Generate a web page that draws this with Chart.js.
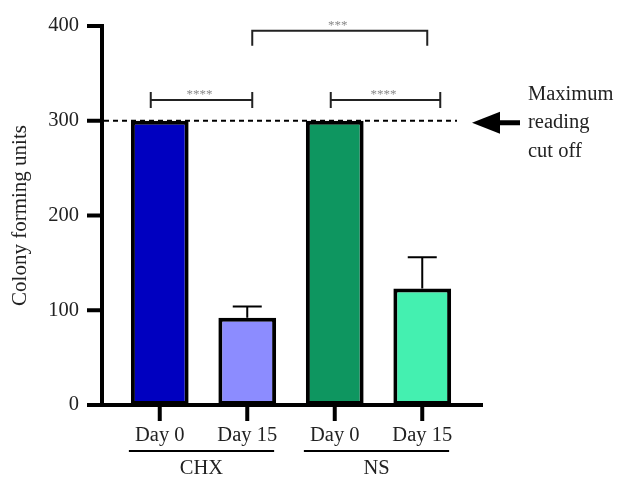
<!DOCTYPE html>
<html>
<head>
<meta charset="utf-8">
<script src="https://cdn.jsdelivr.net/npm/chart.js@4.4.1/dist/chart.umd.min.js"></script>
<style>
html,body{margin:0;padding:0;background:#fff;}
#wrap{width:619px;height:478px;position:relative;}
</style>
</head>
<body>
<div id="wrap"><canvas id="c" width="619" height="478"></canvas></div>
<script>
const categories = ['Day 0', 'Day 15', 'Day 0', 'Day 15'];
const groups = ['CHX', 'NS'];
const groupMembers = [[0, 1], [2, 3]];
const cfuMeans = [300, 92, 300, 123];
const cfuErrors = [0, 12, 0, 33];
const barColors = ['#0000C0', '#8C8CFF', '#0E9660', '#44F0B0'];
const yTickValues = [0, 100, 200, 300, 400];
const cutoffValue = 300;
const cutoffText = ['Maximum', 'reading', 'cut off'];
const bracketFrom = [0, 1, 2];
const bracketTo = [1, 3, 3];
const bracketValue = [322, 395, 322];
const bracketLabels = ['****', '***', '****'];

const FONT = "'Liberation Serif', 'Times New Roman', serif";
const TEXT = '#222';

const overlay = {
  id: 'overlay',
  afterDatasetsDraw(chart) {
    const ctx = chart.ctx, ca = chart.chartArea;
    const x = chart.scales.x, y = chart.scales.y;
    const meta = chart.getDatasetMeta(0);
    const axisX = ca.left - 14;
    const y0 = y.getPixelForValue(0);
    ctx.save();
    // error bars (upward)
    ctx.strokeStyle = '#000'; ctx.lineWidth = 2;
    cfuMeans.forEach((m, i) => {
      if (!cfuErrors[i]) return;
      const cx = meta.data[i].x;
      const top = y.getPixelForValue(m + cfuErrors[i]);
      const base = y.getPixelForValue(m);
      ctx.beginPath();
      ctx.moveTo(cx, base); ctx.lineTo(cx, top);
      ctx.moveTo(cx - 14.5, top); ctx.lineTo(cx + 14.5, top);
      ctx.stroke();
    });
    // axes
    ctx.strokeStyle = '#000'; ctx.lineWidth = 4; ctx.lineCap = 'butt';
    ctx.beginPath();
    ctx.moveTo(axisX, y.getPixelForValue(400) - 2); ctx.lineTo(axisX, y0 + 2);
    ctx.stroke();
    yTickValues.forEach(v => {
      const py = y.getPixelForValue(v);
      ctx.beginPath(); ctx.moveTo(axisX - 15, py); ctx.lineTo(axisX, py); ctx.stroke();
    });
    ctx.beginPath(); ctx.moveTo(axisX - 15, y0); ctx.lineTo(ca.right + 17, y0); ctx.stroke();
    categories.forEach((c, i) => {
      const px = x.getPixelForValue(i);
      ctx.beginPath(); ctx.moveTo(px, y0); ctx.lineTo(px, y0 + 16); ctx.stroke();
    });
    // cutoff dashed line
    const cy = y.getPixelForValue(cutoffValue);
    ctx.lineWidth = 2; ctx.setLineDash([5, 4]);
    ctx.beginPath(); ctx.moveTo(axisX + 2, cy); ctx.lineTo(ca.right - 9, cy); ctx.stroke();
    ctx.setLineDash([]);
    // arrow
    const ay = cy + 2;
    ctx.fillStyle = '#000';
    ctx.beginPath();
    ctx.moveTo(ca.right + 6, ay);
    ctx.lineTo(ca.right + 34, ay - 11);
    ctx.lineTo(ca.right + 34, ay + 11);
    ctx.closePath(); ctx.fill();
    ctx.fillRect(ca.right + 33, ay - 2.5, 21, 5);
    // cutoff text
    ctx.fillStyle = TEXT; ctx.font = '20.5px ' + FONT; ctx.textAlign = 'left'; ctx.textBaseline = 'alphabetic';
    cutoffText.forEach((t, i) => ctx.fillText(t, ca.right + 62, cy - 21 + i * 28.5));
    // brackets
    ctx.strokeStyle = '#222'; ctx.lineWidth = 2;
    bracketLabels.forEach((lab, i) => {
      const by = y.getPixelForValue(bracketValue[i]);
      const tall = i === 1;
      const fx = x.getPixelForValue(bracketFrom[i]) + (tall ? 5 : (i === 0 ? -9 : -4));
      const tx = x.getPixelForValue(bracketTo[i]) + (tall ? 5 : (i === 0 ? 5 : 18));
      ctx.beginPath();
      if (tall) {
        ctx.moveTo(fx, by + 15); ctx.lineTo(fx, by); ctx.lineTo(tx, by); ctx.lineTo(tx, by + 15);
      } else {
        ctx.moveTo(fx, by - 8); ctx.lineTo(fx, by + 8);
        ctx.moveTo(tx, by - 8); ctx.lineTo(tx, by + 8);
        ctx.moveTo(fx, by); ctx.lineTo(tx, by);
      }
      ctx.stroke();
      ctx.fillStyle = '#888'; ctx.font = '13px ' + FONT; ctx.textAlign = 'center';
      ctx.fillText(lab, (fx + tx) / 2 - 2, by - 2);
    });
    // group lines and labels
    ctx.strokeStyle = '#000'; ctx.lineWidth = 2;
    groups.forEach((g, gi) => {
      const [a, b] = groupMembers[gi];
      const ea = meta.data[a], eb = meta.data[b];
      const lx = ea.x - ea.width / 2 - 2, rx = eb.x + eb.width / 2 - 2;
      ctx.beginPath(); ctx.moveTo(lx, y0 + 46); ctx.lineTo(rx, y0 + 46); ctx.stroke();
      ctx.fillStyle = TEXT; ctx.font = '20.5px ' + FONT; ctx.textAlign = 'center';
      ctx.fillText(g, (lx + rx) / 2, y0 + 69);
    });
    ctx.restore();
  }
};

new Chart(document.getElementById('c'), {
  type: 'bar',
  data: {
    labels: categories,
    datasets: [{
      data: cfuMeans,
      backgroundColor: barColors,
      borderColor: '#000',
      borderWidth: 4,
      borderSkipped: false,
      barPercentage: 0.66,
      categoryPercentage: 1
    }]
  },
  options: {
    responsive: false,
    animation: false,
    devicePixelRatio: 1,
    layout: { padding: { top: 26, right: 153, bottom: 0, left: 0 } },
    plugins: { legend: { display: false }, tooltip: { enabled: false } },
    scales: {
      x: {
        type: 'category',
        grid: { display: false },
        border: { display: false },
        ticks: { font: { family: FONT, size: 20.5 }, color: TEXT, padding: 10 },
        afterFit(s) { s.height = 73; s.paddingLeft = 0; s.paddingRight = 0; }
      },
      y: {
        min: 0, max: 400,
        grid: { display: false },
        border: { display: false },
        ticks: { stepSize: 100, font: { family: FONT, size: 20.5 }, color: TEXT, padding: 29 },
        title: { display: true, text: 'Colony forming units', font: { family: FONT, size: 21 }, color: TEXT, padding: { top: 8, bottom: 0 } },
        afterFit(s) { s.width = 116; s.paddingTop = 0; s.paddingBottom = 0; }
      }
    }
  },
  plugins: [overlay]
});
</script>
</body>
</html>
